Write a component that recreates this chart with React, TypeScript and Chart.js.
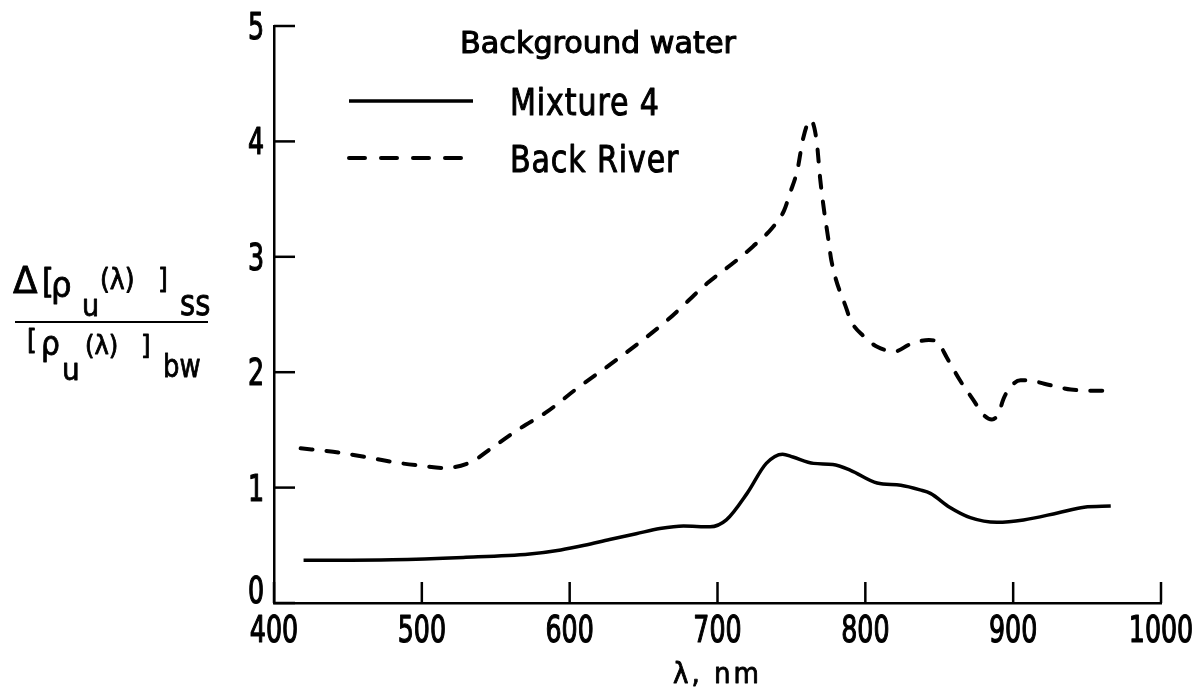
import React, { useEffect, useRef } from 'react';
import { Chart, registerables } from 'chart.js';

Chart.register(...registerables);

const FONT = "'DejaVu Sans Condensed', 'DejaVu Sans', sans-serif";
const INK = '#000';

// Wavelength (nm) and normalized reflectance change for each background water
const mixtureWavelengths = [420, 480, 528, 573, 594, 610, 627, 645, 661, 677, 695, 706, 720, 733, 744, 751, 765, 778, 790, 808, 824, 837, 844, 857, 871, 889, 907, 930, 948, 966];
const mixtureRatio = [0.37, 0.375, 0.395, 0.425, 0.46, 0.5, 0.55, 0.6, 0.645, 0.667, 0.66, 0.72, 0.95, 1.21, 1.29, 1.265, 1.21, 1.2, 1.15, 1.04, 1.02, 0.98, 0.95, 0.83, 0.74, 0.7, 0.72, 0.78, 0.83, 0.84];

const backRiverWavelengths = [418, 440, 460, 481, 499, 515, 533, 548, 566, 585, 603, 632, 666, 693, 713, 724, 737, 745, 749, 754, 758, 763, 767, 769.5, 772, 775, 777, 787.5, 790, 799, 808, 820, 830, 843, 849.5, 855, 864, 873, 880, 885.6, 890, 893.5, 898, 905, 910, 921, 939, 957, 967];
const backRiverRatio = [1.34, 1.31, 1.27, 1.22, 1.19, 1.17, 1.22, 1.35, 1.51, 1.66, 1.84, 2.11, 2.45, 2.77, 2.97, 3.09, 3.25, 3.4, 3.55, 3.75, 4.03, 4.185, 4.01, 3.67, 3.41, 3.15, 2.97, 2.54, 2.45, 2.31, 2.22, 2.18, 2.24, 2.28, 2.25, 2.13, 1.93, 1.76, 1.63, 1.59, 1.64, 1.77, 1.87, 1.93, 1.93, 1.9, 1.85, 1.84, 1.84];

const seriesNames = ['Mixture 4', 'Back River'];
const legendHeading = 'Background water';
const xAxisTitle = 'λ, nm';

const X_MIN = 400;
const X_MAX = 1000;
const X_STEP = 100;
const Y_MIN = 0;
const Y_MAX = 5;
const Y_STEP = 1;

// Pieces of the stacked ratio label on the left, laid out in canvas pixels
const ratioLabelParts = [
  { text: 'Δ', x: 13, y: 293, size: 38, sx: 1.05 },
  { text: '[', x: 42, y: 293, size: 34, sx: 1 },
  { text: 'ρ', x: 51, y: 297, size: 36, sx: 1 },
  { text: 'u', x: 82, y: 316, size: 30, sx: 1 },
  { text: '(λ)', x: 100, y: 289, size: 28, sx: 1 },
  { text: ']', x: 158, y: 289, size: 28, sx: 1 },
  { text: 'ss', x: 180, y: 315, size: 36, sx: 0.9 },
  { text: '[', x: 27, y: 350, size: 28, sx: 1 },
  { text: 'ρ', x: 41, y: 355, size: 33, sx: 1 },
  { text: 'u', x: 62, y: 380, size: 31, sx: 1 },
  { text: '(λ)', x: 85, y: 354, size: 27, sx: 1 },
  { text: ']', x: 141, y: 354, size: 27, sx: 1 },
  { text: 'bw', x: 163, y: 377, size: 32, sx: 0.9 },
];

const toPoints = (xs: number[], ys: number[]) => xs.map((x, i) => ({ x, y: ys[i] }));

// narrow, slightly heavy lettering: text squeezed horizontally by sx
function letter(
  ctx: CanvasRenderingContext2D,
  text: string,
  x: number,
  y: number,
  size: number,
  align: CanvasTextAlign = 'left',
  sx = 0.78,
  spacing = 0,
  weight = 1,
) {
  ctx.save();
  ctx.font = `${size}px ${FONT}`;
  ctx.textAlign = align;
  ctx.textBaseline = 'alphabetic';
  (ctx as any).letterSpacing = `${spacing}px`;
  ctx.translate(x, y);
  ctx.scale(sx, 1);
  ctx.fillText(text, 0, 0);
  if (weight > 0) {
    ctx.lineWidth = weight;
    ctx.lineJoin = 'round';
    ctx.strokeText(text, 0, 0);
  }
  ctx.restore();
}

const decorations = {
  id: 'decorations',
  afterDraw(chart: any) {
    const { ctx, scales } = chart;
    const xs = scales.x;
    const ys = scales.y;
    const area = chart.chartArea;
    ctx.save();
    ctx.strokeStyle = INK;
    ctx.fillStyle = INK;
    ctx.lineWidth = 2.5;
    ctx.lineCap = 'butt';

    // inward tick marks and their labels
    const tickLen = 21;
    xs.ticks.forEach((t: any) => {
      const px = xs.getPixelForValue(t.value);
      ctx.lineWidth = 2.5;
      ctx.beginPath();
      ctx.moveTo(px, area.bottom);
      ctx.lineTo(px, area.bottom - tickLen);
      ctx.stroke();
      letter(ctx, String(t.value), px, area.bottom + 39, 38, 'center', 0.74, 0, 1.2);
    });
    ys.ticks.forEach((t: any) => {
      const py = ys.getPixelForValue(t.value);
      ctx.lineWidth = 2.5;
      ctx.beginPath();
      ctx.moveTo(area.left, py);
      ctx.lineTo(area.left + tickLen, py);
      ctx.stroke();
      letter(ctx, String(t.value), area.left - 10, Math.min(py + 13, area.bottom), 38, 'right', 0.74, 0, 1.2);
    });

    // axis title
    letter(ctx, xAxisTitle, (area.left + area.right) / 2, 683, 29, 'center', 1, 3, 0.8);

    // legend
    letter(ctx, legendHeading, 460, 53, 30, 'left', 1.12, 0, 1);
    const rows = [
      { y: 101, textY: 115 },
      { y: 158, textY: 172 },
    ];
    chart.data.datasets.forEach((ds: any, i: number) => {
      const r = rows[i];
      ctx.save();
      ctx.strokeStyle = ds.borderColor;
      ctx.lineWidth = ds.borderWidth;
      ctx.lineCap = ds.borderCapStyle || 'butt';
      ctx.setLineDash(i === 1 ? [16, 16] : []);
      ctx.beginPath();
      ctx.moveTo(349, r.y);
      ctx.lineTo(473, r.y);
      ctx.stroke();
      ctx.restore();
      letter(ctx, ds.label, 510, r.textY, 38, 'left', 0.88, 1, 1);
    });

    // stacked ratio label
    ratioLabelParts.forEach((p) => {
      letter(ctx, p.text, p.x, p.y, p.size, 'left', p.sx, 0, 0.8);
    });
    ctx.lineWidth = 2;
    ctx.beginPath();
    ctx.moveTo(15, 322);
    ctx.lineTo(208, 322);
    ctx.stroke();

    ctx.restore();
  },
};

export default function App() {
  const canvasRef = useRef<HTMLCanvasElement | null>(null);

  useEffect(() => {
    if (!canvasRef.current) return;
    const chart = new Chart(canvasRef.current, {
      type: 'line',
      data: {
        datasets: [
          {
            label: seriesNames[0],
            data: toPoints(mixtureWavelengths, mixtureRatio),
            borderColor: INK,
            borderWidth: 3.5,
            pointRadius: 0,
            cubicInterpolationMode: 'monotone',
            fill: false,
          },
          {
            label: seriesNames[1],
            data: toPoints(backRiverWavelengths, backRiverRatio),
            borderColor: INK,
            borderWidth: 4,
            borderDash: [12, 14],
            borderCapStyle: 'round',
            pointRadius: 0,
            cubicInterpolationMode: 'monotone',
            fill: false,
          },
        ],
      },
      options: {
        animation: false,
        responsive: false,
        layout: { padding: { top: 26, right: 40, left: 0, bottom: 0 } },
        plugins: {
          legend: { display: false },
          tooltip: { enabled: false },
        },
        scales: {
          x: {
            type: 'linear',
            min: X_MIN,
            max: X_MAX,
            ticks: { stepSize: X_STEP, display: false },
            grid: { display: false, drawTicks: false },
            border: { display: true, color: INK, width: 2.5 },
            afterFit(scale: any) {
              scale.height = 93;
              scale.paddingLeft = 0;
              scale.paddingRight = 0;
            },
          },
          y: {
            type: 'linear',
            min: Y_MIN,
            max: Y_MAX,
            ticks: { stepSize: Y_STEP, display: false },
            grid: { display: false, drawTicks: false },
            border: { display: true, color: INK, width: 2.5 },
            afterFit(scale: any) {
              scale.width = 274;
              scale.paddingTop = 0;
              scale.paddingBottom = 0;
            },
          },
        },
      },
      plugins: [decorations],
    });
    return () => chart.destroy();
  }, []);

  return (
    <div style={{ position: 'absolute', left: 0, top: 0, width: 1201, height: 696, background: '#fff' }}>
      <canvas ref={canvasRef} width={1201} height={696} />
    </div>
  );
}
